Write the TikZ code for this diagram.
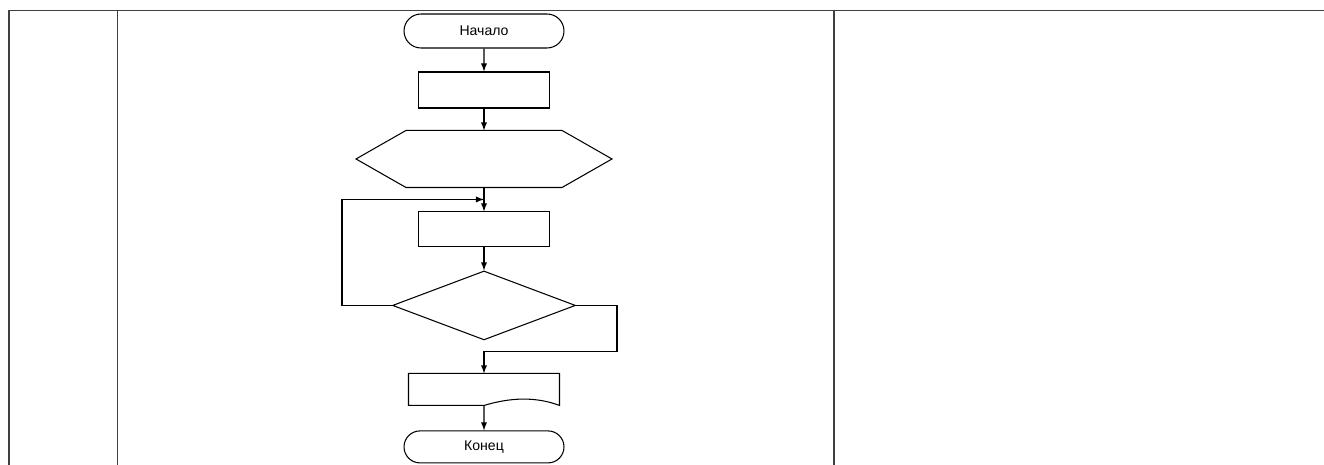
\documentclass[tikz,border=0pt]{standalone}
\usepackage{fontspec}
\setmainfont{Liberation Sans}
\usepackage{tikz}
\usetikzlibrary{arrows,shapes.geometric,shapes.misc}

\begin{document}
\begin{tikzpicture}[x=0.02cm, y=-0.02cm, >=latex, line width=0.6pt,
        every node/.style={font=\fontsize{8}{10}\selectfont, inner sep=0pt},
        terminal/.style={rounded rectangle, draw, minimum width=3.2cm, minimum height=0.68cm},
        block/.style={rectangle, draw, minimum width=2.62cm, minimum height=0.72cm},
        hexbox/.style={rectangle, minimum width=5.1cm, minimum height=1.12cm},
        cond/.style={diamond, draw, minimum width=3.66cm, minimum height=1.38cm},
        docbox/.style={rectangle, minimum width=3cm, minimum height=0.62cm}]
        \useasboundingbox (0,0) rectangle (1324,465);

        % table
        \draw[line width=1.1pt, black!75] (9,465) -- (9,10.5) -- (326,10.5);
        \draw[black!75] (326,10.5) -- (628,10.5);
        \draw[line width=1.1pt, black!75] (628,10.5) -- (1324,10.5);
        \draw[line width=1.1pt, black!75] (117.5,10.5) -- (117.5,465);
        \draw[line width=1.1pt, black!75] (834,10.5) -- (834,465);

        \node[terminal] (0) at (484,31) {Начало};
        \node[block, below of=0, node distance=1.18cm] (1) {};
        \node[hexbox, below of=1, node distance=1.38cm] (2) {};
        \node[block, below of=2, node distance=1.41cm, minimum height=0.7cm] (3) {};
        \node[cond, below of=3, node distance=1.52cm] (4) {};
        \node[docbox, below of=4, node distance=1.68cm] (5) {};
        \node[terminal, below of=5, node distance=1.15cm, minimum height=0.64cm] (6) {Конец};

        \draw ([xshift=1cm]2.north west) -- ([xshift=-1cm]2.north east) -- (2.east)
            -- ([xshift=-1cm]2.south east) -- ([xshift=1cm]2.south west) -- (2.west) -- cycle;
        \draw (5.south west) -- (5.north west) -- (5.north east) -- (5.south east)
            .. controls ([xshift=-0.48cm, yshift=0.18cm]5.south east) and ([xshift=-0.98cm, yshift=0.16cm]5.south east) .. (5.south) -- cycle;

        \path (2.south) -- (3.north) coordinate[midway] (j);

        \draw (0) edge[->] (1);
        \draw (1) edge[->] (2);
        \draw (2) edge[->] (3);
        \draw (3) edge[->] (4);
        \draw[->] (4.west) -- ++(-50,0) |- (j);
        \draw[->] (4.east) -- ++(41,0) |- ([yshift=0.44cm]5.north) -- (5.north);
        \draw (5) edge[->] (6);
    \end{tikzpicture}
\end{document}
